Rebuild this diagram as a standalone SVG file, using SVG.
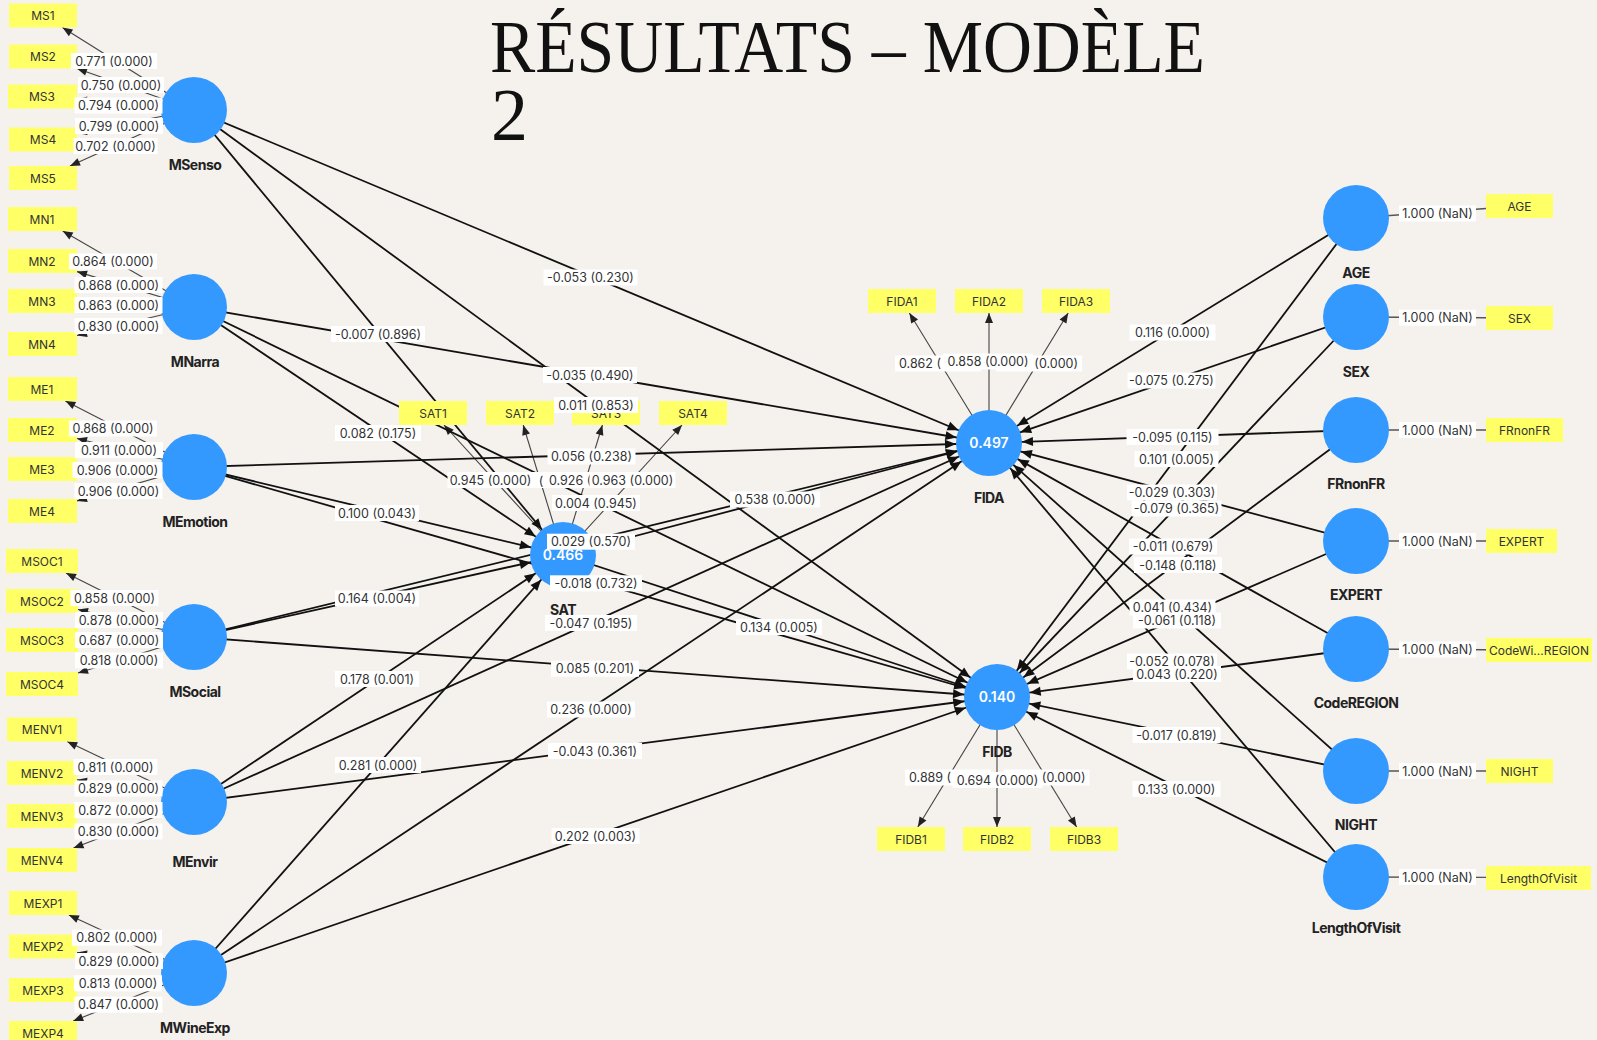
<svg xmlns="http://www.w3.org/2000/svg" width="1597" height="1040" viewBox="0 0 1597 1040">
<style>
.bg{fill:#f5f1ed}
.lv{fill:#3399ff}
.ind{fill:#ffff66}
.it{font-family:Inter,'Liberation Sans',sans-serif;font-size:12px;fill:#333;text-anchor:middle}
.nl{font-family:Inter,'Liberation Sans',sans-serif;font-size:14px;font-weight:700;fill:#222;text-anchor:middle;letter-spacing:-0.5px}
.nv{font-family:Inter,'Liberation Sans',sans-serif;font-size:14px;font-weight:600;fill:#fff;text-anchor:middle}
.s{stroke:#111;stroke-width:1.8;fill:none;marker-end:url(#as)}
.l{stroke:#444;stroke-width:1.1;fill:none;marker-end:url(#al)}
.r{stroke:#555;stroke-width:1.4;fill:none}
.lb rect{fill:#fff}
.lb text{font-family:Inter,'Liberation Sans',sans-serif;font-size:12.5px;fill:#333;text-anchor:middle}
.title{font-family:'Liberation Serif',serif;font-size:74px;fill:#111}
</style>
<defs>
<marker id="as" markerUnits="userSpaceOnUse" markerWidth="12" markerHeight="10" refX="44" refY="4.5" orient="auto" overflow="visible"><path d="M0,0 L11,4.5 L0,9 z" fill="#111"/></marker>
<marker id="al" markerUnits="userSpaceOnUse" markerWidth="10" markerHeight="8" refX="10" refY="4" orient="auto" overflow="visible"><path d="M0,0 L10,4 L0,8 z" fill="#222"/></marker>
</defs>
<rect class="bg" x="0" y="0" width="1597" height="1040"/>
<g id="title">
<text class="title" x="490" y="72" textLength="715" lengthAdjust="spacingAndGlyphs">RÉSULTATS – MODÈLE</text>
<text class="title" x="491" y="140">2</text>
</g>
<g id="connectors">
<!-- loadings left -->
<line class="l" x1="194" y1="110" x2="62.5" y2="27.5"/>
<line class="l" x1="194" y1="110" x2="77" y2="68.5"/>
<line class="l" x1="194" y1="110" x2="77" y2="99.5"/>
<line class="l" x1="194" y1="110" x2="77" y2="133"/>
<line class="l" x1="194" y1="110" x2="70" y2="166"/>
<line class="l" x1="194" y1="307" x2="62.7" y2="231"/>
<line class="l" x1="194" y1="307" x2="77" y2="271.6"/>
<line class="l" x1="194" y1="307" x2="77" y2="302.4"/>
<line class="l" x1="194" y1="307" x2="77" y2="335.5"/>
<line class="l" x1="194" y1="467" x2="65.4" y2="401"/>
<line class="l" x1="194" y1="467" x2="77" y2="438.5"/>
<line class="l" x1="194" y1="467" x2="77" y2="468.5"/>
<line class="l" x1="194" y1="467" x2="77" y2="500.9"/>
<line class="l" x1="194" y1="637" x2="66" y2="573"/>
<line class="l" x1="194" y1="637" x2="78" y2="609.5"/>
<line class="l" x1="194" y1="637" x2="78" y2="639.3"/>
<line class="l" x1="194" y1="637" x2="78" y2="673"/>
<line class="l" x1="194" y1="802" x2="67.2" y2="741.5"/>
<line class="l" x1="194" y1="802" x2="77" y2="779.7"/>
<line class="l" x1="194" y1="802" x2="77" y2="812.8"/>
<line class="l" x1="194" y1="802" x2="73.5" y2="848"/>
<line class="l" x1="194" y1="973" x2="68.9" y2="915"/>
<line class="l" x1="194" y1="973" x2="77" y2="952.6"/>
<line class="l" x1="194" y1="973" x2="77" y2="986.2"/>
<line class="l" x1="194" y1="973" x2="73.2" y2="1021"/>
<!-- SAT / FIDA / FIDB loadings -->
<line class="l" x1="563" y1="555" x2="444" y2="425"/>
<line class="l" x1="563" y1="555" x2="523.2" y2="425"/>
<line class="l" x1="563" y1="555" x2="602.4" y2="425"/>
<line class="l" x1="563" y1="555" x2="682" y2="425"/>
<line class="l" x1="989" y1="443" x2="909.4" y2="313"/>
<line class="l" x1="989" y1="443" x2="989" y2="313"/>
<line class="l" x1="989" y1="443" x2="1068.2" y2="313"/>
<line class="l" x1="997" y1="697" x2="917.8" y2="827"/>
<line class="l" x1="997" y1="697" x2="997" y2="827"/>
<line class="l" x1="997" y1="697" x2="1076.6" y2="827"/>
<!-- single items right -->
<line class="r" x1="1356" y1="218" x2="1486" y2="208.5"/>
<line class="r" x1="1356" y1="317" x2="1486" y2="317.8"/>
<line class="r" x1="1356" y1="430" x2="1486" y2="430"/>
<line class="r" x1="1356" y1="541" x2="1486" y2="541"/>
<line class="r" x1="1356" y1="649" x2="1486" y2="649.8"/>
<line class="r" x1="1356" y1="771" x2="1486" y2="771"/>
<line class="r" x1="1356" y1="877" x2="1486" y2="877.4"/>
<!-- structural to SAT -->
<line class="s" x1="194" y1="110" x2="563" y2="555"/>
<line class="s" x1="194" y1="307" x2="563" y2="555"/>
<line class="s" x1="194" y1="467" x2="563" y2="555"/>
<line class="s" x1="194" y1="637" x2="563" y2="555"/>
<line class="s" x1="194" y1="802" x2="563" y2="555"/>
<line class="s" x1="194" y1="973" x2="563" y2="555"/>
<!-- structural to FIDA -->
<line class="s" x1="194" y1="110" x2="989" y2="443"/>
<line class="s" x1="194" y1="307" x2="989" y2="443"/>
<line class="s" x1="194" y1="467" x2="989" y2="443"/>
<line class="s" x1="194" y1="637" x2="989" y2="443"/>
<line class="s" x1="194" y1="802" x2="989" y2="443"/>
<line class="s" x1="194" y1="973" x2="989" y2="443"/>
<line class="s" x1="563" y1="555" x2="989" y2="443"/>
<line class="s" x1="1356" y1="218" x2="989" y2="443"/>
<line class="s" x1="1356" y1="317" x2="989" y2="443"/>
<line class="s" x1="1356" y1="430" x2="989" y2="443"/>
<line class="s" x1="1356" y1="541" x2="989" y2="443"/>
<line class="s" x1="1356" y1="649" x2="989" y2="443"/>
<line class="s" x1="1356" y1="771" x2="989" y2="443"/>
<line class="s" x1="1356" y1="877" x2="989" y2="443"/>
<!-- structural to FIDB -->
<line class="s" x1="194" y1="110" x2="997" y2="697"/>
<line class="s" x1="194" y1="307" x2="997" y2="697"/>
<line class="s" x1="194" y1="467" x2="997" y2="697"/>
<line class="s" x1="194" y1="637" x2="997" y2="697"/>
<line class="s" x1="194" y1="802" x2="997" y2="697"/>
<line class="s" x1="194" y1="973" x2="997" y2="697"/>
<line class="s" x1="563" y1="555" x2="997" y2="697"/>
<line class="s" x1="1356" y1="218" x2="997" y2="697"/>
<line class="s" x1="1356" y1="317" x2="997" y2="697"/>
<line class="s" x1="1356" y1="430" x2="997" y2="697"/>
<line class="s" x1="1356" y1="541" x2="997" y2="697"/>
<line class="s" x1="1356" y1="649" x2="997" y2="697"/>
<line class="s" x1="1356" y1="771" x2="997" y2="697"/>
<line class="s" x1="1356" y1="877" x2="997" y2="697"/>
</g>
<g id="indicators">
<g id="MS1"><rect class="ind" x="9" y="3.5" width="68" height="24"/><text class="it" x="43" y="20">MS1</text></g>
<g id="MS2"><rect class="ind" x="9" y="44.5" width="68" height="24"/><text class="it" x="43" y="61">MS2</text></g>
<g id="MS3"><rect class="ind" x="8" y="84.5" width="69" height="24"/><text class="it" x="42" y="101">MS3</text></g>
<g id="MS4"><rect class="ind" x="9" y="127.5" width="68" height="24"/><text class="it" x="43" y="144">MS4</text></g>
<g id="MS5"><rect class="ind" x="9" y="166" width="68" height="24"/><text class="it" x="43" y="182.5">MS5</text></g>
<g id="MN1"><rect class="ind" x="8" y="207" width="69" height="24"/><text class="it" x="42" y="223.5">MN1</text></g>
<g id="MN2"><rect class="ind" x="8" y="249" width="69" height="24"/><text class="it" x="42" y="265.5">MN2</text></g>
<g id="MN3"><rect class="ind" x="8" y="289" width="69" height="24"/><text class="it" x="42" y="305.5">MN3</text></g>
<g id="MN4"><rect class="ind" x="8" y="332" width="69" height="24"/><text class="it" x="42" y="348.5">MN4</text></g>
<g id="ME1"><rect class="ind" x="8" y="377" width="69" height="24"/><text class="it" x="42" y="393.5">ME1</text></g>
<g id="ME2"><rect class="ind" x="8" y="418" width="69" height="24"/><text class="it" x="42" y="434.5">ME2</text></g>
<g id="ME3"><rect class="ind" x="8" y="457" width="69" height="24"/><text class="it" x="42" y="473.5">ME3</text></g>
<g id="ME4"><rect class="ind" x="8" y="499" width="69" height="24"/><text class="it" x="42" y="515.5">ME4</text></g>
<g id="MSOC1"><rect class="ind" x="6" y="549" width="72" height="24"/><text class="it" x="42" y="565.5">MSOC1</text></g>
<g id="MSOC2"><rect class="ind" x="6" y="589" width="72" height="24"/><text class="it" x="42" y="605.5">MSOC2</text></g>
<g id="MSOC3"><rect class="ind" x="6" y="628" width="72" height="24"/><text class="it" x="42" y="644.5">MSOC3</text></g>
<g id="MSOC4"><rect class="ind" x="6" y="672" width="72" height="24"/><text class="it" x="42" y="688.5">MSOC4</text></g>
<g id="MENV1"><rect class="ind" x="7" y="717.5" width="70" height="24"/><text class="it" x="42" y="734">MENV1</text></g>
<g id="MENV2"><rect class="ind" x="7" y="761" width="70" height="24"/><text class="it" x="42" y="777.5">MENV2</text></g>
<g id="MENV3"><rect class="ind" x="7" y="804" width="70" height="24"/><text class="it" x="42" y="820.5">MENV3</text></g>
<g id="MENV4"><rect class="ind" x="7" y="848" width="70" height="24"/><text class="it" x="42" y="864.5">MENV4</text></g>
<g id="MEXP1"><rect class="ind" x="9" y="891" width="68" height="24"/><text class="it" x="43" y="907.5">MEXP1</text></g>
<g id="MEXP2"><rect class="ind" x="9" y="934.5" width="68" height="24"/><text class="it" x="43" y="951">MEXP2</text></g>
<g id="MEXP3"><rect class="ind" x="9" y="978" width="68" height="24"/><text class="it" x="43" y="994.5">MEXP3</text></g>
<g id="MEXP4"><rect class="ind" x="9" y="1021" width="68" height="24"/><text class="it" x="43" y="1037.5">MEXP4</text></g>
<g id="SAT1"><rect class="ind" x="399" y="401" width="68" height="24"/><text class="it" x="433" y="417.5">SAT1</text></g>
<g id="SAT2"><rect class="ind" x="486" y="401" width="68" height="24"/><text class="it" x="520" y="417.5">SAT2</text></g>
<g id="SAT3"><rect class="ind" x="572" y="401" width="68" height="24"/><text class="it" x="606" y="417.5">SAT3</text></g>
<g id="SAT4"><rect class="ind" x="659" y="401" width="68" height="24"/><text class="it" x="693" y="417.5">SAT4</text></g>
<g id="FIDA1"><rect class="ind" x="868" y="289" width="68" height="24"/><text class="it" x="902" y="305.5">FIDA1</text></g>
<g id="FIDA2"><rect class="ind" x="955" y="289" width="68" height="24"/><text class="it" x="989" y="305.5">FIDA2</text></g>
<g id="FIDA3"><rect class="ind" x="1042" y="289" width="68" height="24"/><text class="it" x="1076" y="305.5">FIDA3</text></g>
<g id="FIDB1"><rect class="ind" x="877" y="827" width="68" height="24"/><text class="it" x="911" y="843.5">FIDB1</text></g>
<g id="FIDB2"><rect class="ind" x="963" y="827" width="68" height="24"/><text class="it" x="997" y="843.5">FIDB2</text></g>
<g id="FIDB3"><rect class="ind" x="1050" y="827" width="68" height="24"/><text class="it" x="1084" y="843.5">FIDB3</text></g>
<g id="ind-AGE"><rect class="ind" x="1486" y="194" width="67" height="24"/><text class="it" x="1519.5" y="210.5">AGE</text></g>
<g id="ind-SEX"><rect class="ind" x="1486" y="306" width="67" height="24"/><text class="it" x="1519.5" y="322.5">SEX</text></g>
<g id="ind-FRnonFR"><rect class="ind" x="1486" y="418" width="77" height="24"/><text class="it" x="1524.5" y="434.5">FRnonFR</text></g>
<g id="ind-EXPERT"><rect class="ind" x="1486" y="529" width="71" height="24"/><text class="it" x="1521.5" y="545.5">EXPERT</text></g>
<g id="ind-CodeREGION"><rect class="ind" x="1486" y="638" width="106" height="24"/><text class="it" x="1539" y="654.5">CodeWi...REGION</text></g>
<g id="ind-NIGHT"><rect class="ind" x="1486" y="759" width="67" height="24"/><text class="it" x="1519.5" y="775.5">NIGHT</text></g>
<g id="ind-LengthOfVisit"><rect class="ind" x="1486" y="866" width="105" height="24"/><text class="it" x="1538.5" y="882.5">LengthOfVisit</text></g>
</g>
<g id="latents">
<g id="MSenso"><circle class="lv" cx="194" cy="110" r="33"/><text class="nl" x="195" y="170">MSenso</text></g>
<g id="MNarra"><circle class="lv" cx="194" cy="307" r="33"/><text class="nl" x="195" y="366.5">MNarra</text></g>
<g id="MEmotion"><circle class="lv" cx="194" cy="467" r="33"/><text class="nl" x="195" y="526.5">MEmotion</text></g>
<g id="MSocial"><circle class="lv" cx="194" cy="637" r="33"/><text class="nl" x="195" y="697">MSocial</text></g>
<g id="MEnvir"><circle class="lv" cx="194" cy="802" r="33"/><text class="nl" x="195" y="866.5">MEnvir</text></g>
<g id="MWineExp"><circle class="lv" cx="194" cy="973" r="33"/><text class="nl" x="195" y="1033">MWineExp</text></g>
<g id="SAT"><circle class="lv" cx="563" cy="555" r="33"/><text class="nv" x="563" y="560">0.466</text><text class="nl" x="563" y="615">SAT</text></g>
<g id="FIDA"><circle class="lv" cx="989" cy="443" r="33"/><text class="nv" x="989" y="448">0.497</text><text class="nl" x="989" y="503">FIDA</text></g>
<g id="FIDB"><circle class="lv" cx="997" cy="697" r="33"/><text class="nv" x="997" y="702">0.140</text><text class="nl" x="997" y="757">FIDB</text></g>
<g id="AGE"><circle class="lv" cx="1356" cy="218" r="33"/><text class="nl" x="1356" y="278">AGE</text></g>
<g id="SEX"><circle class="lv" cx="1356" cy="317" r="33"/><text class="nl" x="1356" y="376.5">SEX</text></g>
<g id="FRnonFR"><circle class="lv" cx="1356" cy="430" r="33"/><text class="nl" x="1356" y="489">FRnonFR</text></g>
<g id="EXPERT"><circle class="lv" cx="1356" cy="541" r="33"/><text class="nl" x="1356" y="600">EXPERT</text></g>
<g id="CodeREGION"><circle class="lv" cx="1356" cy="649" r="33"/><text class="nl" x="1356" y="708">CodeREGION</text></g>
<g id="NIGHT"><circle class="lv" cx="1356" cy="771" r="33"/><text class="nl" x="1356" y="830">NIGHT</text></g>
<g id="LengthOfVisit"><circle class="lv" cx="1356" cy="877" r="33"/><text class="nl" x="1356" y="933">LengthOfVisit</text></g>
</g>
<g id="edge-labels" class="lb">
<!-- left loadings -->
<g transform="translate(114,61)"><rect x="-43" y="-8" width="86" height="16"/><text y="4.5">0.771 (0.000)</text></g>
<g transform="translate(121,85)"><rect x="-43" y="-8" width="86" height="16"/><text y="4.5">0.750 (0.000)</text></g>
<g transform="translate(118.5,105.5)"><rect x="-44" y="-8" width="88" height="16"/><text y="4.5">0.794 (0.000)</text></g>
<g transform="translate(119,126)"><rect x="-44" y="-8" width="88" height="16"/><text y="4.5">0.799 (0.000)</text></g>
<g transform="translate(115.5,146)"><rect x="-42" y="-8" width="84" height="16"/><text y="4.5">0.702 (0.000)</text></g>
<g transform="translate(113,261.5)"><rect x="-44" y="-8" width="88" height="16"/><text y="4.5">0.864 (0.000)</text></g>
<g transform="translate(118.5,285)"><rect x="-44" y="-8" width="88" height="16"/><text y="4.5">0.868 (0.000)</text></g>
<g transform="translate(118.5,305)"><rect x="-44" y="-8" width="88" height="16"/><text y="4.5">0.863 (0.000)</text></g>
<g transform="translate(118.5,326)"><rect x="-44" y="-8" width="88" height="16"/><text y="4.5">0.830 (0.000)</text></g>
<g transform="translate(113,428.5)"><rect x="-44" y="-8" width="88" height="16"/><text y="4.5">0.868 (0.000)</text></g>
<g transform="translate(119,450)"><rect x="-44" y="-8" width="88" height="16"/><text y="4.5">0.911 (0.000)</text></g>
<g transform="translate(117.5,470)"><rect x="-45" y="-8" width="90" height="16"/><text y="4.5">0.906 (0.000)</text></g>
<g transform="translate(118.5,491)"><rect x="-44" y="-8" width="88" height="16"/><text y="4.5">0.906 (0.000)</text></g>
<g transform="translate(114.5,598)"><rect x="-44" y="-8" width="88" height="16"/><text y="4.5">0.858 (0.000)</text></g>
<g transform="translate(119,620)"><rect x="-44" y="-8" width="88" height="16"/><text y="4.5">0.878 (0.000)</text></g>
<g transform="translate(119,640)"><rect x="-44" y="-8" width="88" height="16"/><text y="4.5">0.687 (0.000)</text></g>
<g transform="translate(119,660.5)"><rect x="-44" y="-8" width="88" height="16"/><text y="4.5">0.818 (0.000)</text></g>
<g transform="translate(115.5,767)"><rect x="-42" y="-8" width="84" height="16"/><text y="4.5">0.811 (0.000)</text></g>
<g transform="translate(118.5,788.5)"><rect x="-44" y="-8" width="88" height="16"/><text y="4.5">0.829 (0.000)</text></g>
<g transform="translate(118.5,810)"><rect x="-44" y="-8" width="88" height="16"/><text y="4.5">0.872 (0.000)</text></g>
<g transform="translate(118.5,831.5)"><rect x="-44" y="-8" width="88" height="16"/><text y="4.5">0.830 (0.000)</text></g>
<g transform="translate(117,937.7)"><rect x="-45" y="-8" width="90" height="16"/><text y="4.5">0.802 (0.000)</text></g>
<g transform="translate(119,961)"><rect x="-44" y="-8" width="88" height="16"/><text y="4.5">0.829 (0.000)</text></g>
<g transform="translate(118,983.3)"><rect x="-44" y="-8" width="88" height="16"/><text y="4.5">0.813 (0.000)</text></g>
<g transform="translate(118.5,1004.7)"><rect x="-44" y="-8" width="88" height="16"/><text y="4.5">0.847 (0.000)</text></g>
<!-- SAT loadings -->
<g transform="translate(538,480)"><rect x="-43" y="-8" width="86" height="16"/><text x="3" y="4.5">(</text></g>
<g transform="translate(490.5,480)"><rect x="-43" y="-8" width="86" height="16"/><text y="4.5">0.945 (0.000)</text></g>
<g transform="translate(588,480)"><rect x="-43" y="-8" width="86" height="16"/><text x="-39" y="4.5" style="text-anchor:start">0.926 (</text></g>
<g transform="translate(632.5,480)"><rect x="-43" y="-8" width="86" height="16"/><text y="4.5">0.963 (0.000)</text></g>
<!-- FIDA loadings -->
<g transform="translate(938,363.5)"><rect x="-43" y="-8" width="86" height="16"/><text x="-39" y="4.5" style="text-anchor:start">0.862 (</text></g>
<g transform="translate(1039,363.5)"><rect x="-43" y="-8" width="86" height="16"/><text x="39" y="4.5" style="text-anchor:end">(0.000)</text></g>
<g transform="translate(988,361.5)"><rect x="-45" y="-8" width="90" height="16"/><text y="4.5">0.858 (0.000)</text></g>
<!-- FIDB loadings -->
<g transform="translate(948,777.5)"><rect x="-43" y="-8" width="86" height="16"/><text x="-39" y="4.5" style="text-anchor:start">0.889 (</text></g>
<g transform="translate(1046.5,777.5)"><rect x="-43" y="-8" width="86" height="16"/><text x="39" y="4.5" style="text-anchor:end">(0.000)</text></g>
<g transform="translate(997.5,780)"><rect x="-45" y="-8" width="90" height="16"/><text y="4.5">0.694 (0.000)</text></g>
<!-- single items -->
<g transform="translate(1437.5,213.5)"><rect x="-38.5" y="-8" width="77" height="16"/><text y="4.5">1.000 (NaN)</text></g>
<g transform="translate(1437.5,317.7)"><rect x="-38.5" y="-8" width="77" height="16"/><text y="4.5">1.000 (NaN)</text></g>
<g transform="translate(1437.5,430)"><rect x="-38.5" y="-8" width="77" height="16"/><text y="4.5">1.000 (NaN)</text></g>
<g transform="translate(1437.5,541)"><rect x="-38.5" y="-8" width="77" height="16"/><text y="4.5">1.000 (NaN)</text></g>
<g transform="translate(1437.5,649.5)"><rect x="-38.5" y="-8" width="77" height="16"/><text y="4.5">1.000 (NaN)</text></g>
<g transform="translate(1437.5,771)"><rect x="-38.5" y="-8" width="77" height="16"/><text y="4.5">1.000 (NaN)</text></g>
<g transform="translate(1437.5,877)"><rect x="-38.5" y="-8" width="77" height="16"/><text y="4.5">1.000 (NaN)</text></g>
<!-- structural to SAT -->
<g transform="translate(378,334)"><rect x="-47" y="-8" width="94" height="16"/><text y="4.5">-0.007 (0.896)</text></g>
<g transform="translate(378,433)"><rect x="-43" y="-8" width="86" height="16"/><text y="4.5">0.082 (0.175)</text></g>
<g transform="translate(377,513)"><rect x="-42" y="-8" width="84" height="16"/><text y="4.5">0.100 (0.043)</text></g>
<g transform="translate(377,598.5)"><rect x="-42" y="-8" width="84" height="16"/><text y="4.5">0.164 (0.004)</text></g>
<g transform="translate(377,679)"><rect x="-42" y="-8" width="84" height="16"/><text y="4.5">0.178 (0.001)</text></g>
<g transform="translate(378,765)"><rect x="-43" y="-8" width="86" height="16"/><text y="4.5">0.281 (0.000)</text></g>
<!-- structural to FIDA -->
<g transform="translate(590.5,277.5)"><rect x="-47" y="-8" width="94" height="16"/><text y="4.5">-0.053 (0.230)</text></g>
<g transform="translate(590,375)"><rect x="-47" y="-8" width="94" height="16"/><text y="4.5">-0.035 (0.490)</text></g>
<g transform="translate(591.5,456.5)"><rect x="-44" y="-8" width="88" height="16"/><text y="4.5">0.056 (0.238)</text></g>
<g transform="translate(591,541.7)"><rect x="-44" y="-8" width="88" height="16"/><text y="4.5">0.029 (0.570)</text></g>
<g transform="translate(591,623)"><rect x="-46" y="-8" width="92" height="16"/><text y="4.5">-0.047 (0.195)</text></g>
<g transform="translate(591,709.5)"><rect x="-44" y="-8" width="88" height="16"/><text y="4.5">0.236 (0.000)</text></g>
<g transform="translate(775,499.5)"><rect x="-45" y="-8" width="90" height="16"/><text y="4.5">0.538 (0.000)</text></g>
<g transform="translate(1172.5,332.5)"><rect x="-43" y="-8" width="86" height="16"/><text y="4.5">0.116 (0.000)</text></g>
<g transform="translate(1171.5,380.5)"><rect x="-44" y="-8" width="88" height="16"/><text y="4.5">-0.075 (0.275)</text></g>
<g transform="translate(1172.5,437)"><rect x="-46" y="-8" width="92" height="16"/><text y="4.5">-0.095 (0.115)</text></g>
<g transform="translate(1172,492.5)"><rect x="-45" y="-8" width="90" height="16"/><text y="4.5">-0.029 (0.303)</text></g>
<g transform="translate(1173,546.5)"><rect x="-44" y="-8" width="88" height="16"/><text y="4.5">-0.011 (0.679)</text></g>
<g transform="translate(1172.5,607.5)"><rect x="-43" y="-8" width="86" height="16"/><text y="4.5">0.041 (0.434)</text></g>
<g transform="translate(1172,661.5)"><rect x="-45" y="-8" width="90" height="16"/><text y="4.5">-0.052 (0.078)</text></g>
<!-- structural to FIDB -->
<g transform="translate(596,405)"><rect x="-42" y="-8" width="84" height="16"/><text y="4.5">0.011 (0.853)</text></g>
<g transform="translate(596,503)"><rect x="-44" y="-8" width="88" height="16"/><text y="4.5">0.004 (0.945)</text></g>
<g transform="translate(596,583.3)"><rect x="-46" y="-8" width="92" height="16"/><text y="4.5">-0.018 (0.732)</text></g>
<g transform="translate(595,668.7)"><rect x="-44" y="-8" width="88" height="16"/><text y="4.5">0.085 (0.201)</text></g>
<g transform="translate(595,751)"><rect x="-47" y="-8" width="94" height="16"/><text y="4.5">-0.043 (0.361)</text></g>
<g transform="translate(595.5,836)"><rect x="-44" y="-8" width="88" height="16"/><text y="4.5">0.202 (0.003)</text></g>
<g transform="translate(779,627)"><rect x="-43" y="-8" width="86" height="16"/><text y="4.5">0.134 (0.005)</text></g>
<g transform="translate(1176.5,459)"><rect x="-42" y="-8" width="84" height="16"/><text y="4.5">0.101 (0.005)</text></g>
<g transform="translate(1176.5,508.5)"><rect x="-45" y="-8" width="90" height="16"/><text y="4.5">-0.079 (0.365)</text></g>
<g transform="translate(1178,565)"><rect x="-44" y="-8" width="88" height="16"/><text y="4.5">-0.148 (0.118)</text></g>
<g transform="translate(1177,620.5)"><rect x="-44" y="-8" width="88" height="16"/><text y="4.5">-0.061 (0.118)</text></g>
<g transform="translate(1177,674)"><rect x="-44" y="-8" width="88" height="16"/><text y="4.5">0.043 (0.220)</text></g>
<g transform="translate(1176.5,735)"><rect x="-44" y="-8" width="88" height="16"/><text y="4.5">-0.017 (0.819)</text></g>
<g transform="translate(1176.5,789)"><rect x="-44" y="-8" width="88" height="16"/><text y="4.5">0.133 (0.000)</text></g>
</g>
</svg>
